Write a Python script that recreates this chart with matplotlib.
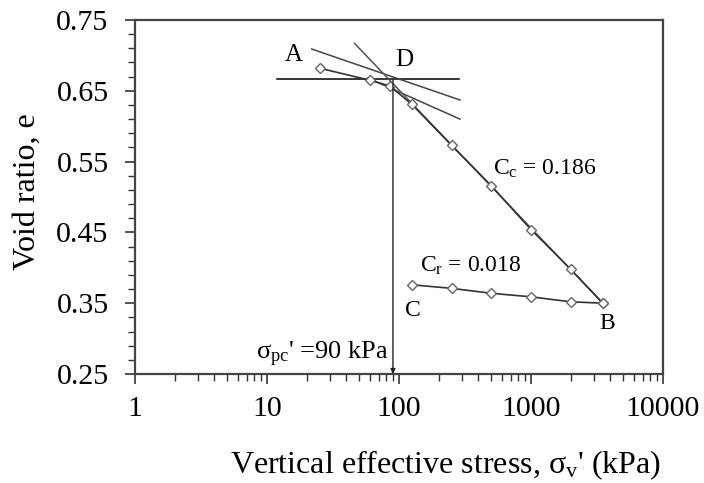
import numpy as np
import matplotlib
matplotlib.use("Agg")
import matplotlib.pyplot as plt
from matplotlib.ticker import FixedLocator, NullFormatter, LogLocator

plt.rcParams['font.family'] = ['Liberation Serif', 'DejaVu Serif']
plt.rcParams['mathtext.default'] = 'regular'

# Data
load_stress = [25, 60, 85, 125, 250, 500, 1000, 2000, 3500]
load_e = [0.682, 0.665, 0.657, 0.631, 0.573, 0.516, 0.454, 0.398, 0.350]
unload_stress = [3500, 2000, 1000, 500, 250, 125]
unload_e = [0.350, 0.352, 0.359, 0.364, 0.371, 0.376]

# Casagrande construction lines
horiz_x = [12, 285]
horiz_e = [0.667, 0.667]
tangent_x = [21.8, 290]
tangent_e = [0.709, 0.637]
bisect_x = [58, 290]
bisect_e = [0.668, 0.610]
virgin_x = [46, 3500]
virgin_e = [0.717, 0.350]
sigma_pc = 90

y_major = [0.25, 0.35, 0.45, 0.55, 0.65, 0.75]
x_major = [1, 10, 100, 1000, 10000]
x_labels = ['1', '10', '100', '1000', '10000']

fig = plt.figure(figsize=(7.04, 4.83), dpi=100)
ax = fig.add_axes([135/704, 1-374/483, (663-135)/704, (374-20)/483])

lc = '#333333'
ax.plot(horiz_x, horiz_e, color='black', lw=1.1)
ax.plot(tangent_x, tangent_e, color='#444444', lw=1.1)
ax.plot(bisect_x, bisect_e, color='#444444', lw=1.1)
ax.plot(virgin_x, virgin_e, color='#555555', lw=1.1)
ax.plot(load_stress, load_e, color=lc, lw=1.2, marker='D', ms=5,
        mfc='white', mec='#666666', mew=1.0)
ax.plot(unload_stress, unload_e, color=lc, lw=1.2, marker='D', ms=5,
        mfc='white', mec='#666666', mew=1.0)
ax.annotate('', xy=(sigma_pc, 0.25), xytext=(sigma_pc, 0.665),
            arrowprops=dict(arrowstyle='-|>', color='#222222', lw=1.0,
                            mutation_scale=7, shrinkA=0, shrinkB=0))

ax.set_xscale('log')
ax.set_xlim(1, 10000)
ax.set_ylim(0.25, 0.75)

ax.xaxis.set_major_locator(FixedLocator(x_major))
ax.set_xticklabels(x_labels)
ax.xaxis.set_minor_locator(LogLocator(base=10, subs=np.arange(2, 10)))
ax.xaxis.set_minor_formatter(NullFormatter())
ax.yaxis.set_major_locator(FixedLocator(y_major))
ax.set_yticklabels(['%.2f' % v for v in y_major])
ax.yaxis.set_minor_locator(FixedLocator(np.arange(0.25, 0.75, 0.02)))

ax.tick_params(axis='both', which='major', direction='out', length=7, width=1.2,
               color='#333333', labelsize=21.5)
ax.tick_params(axis='both', which='minor', direction='out', length=5, width=1.0,
               color='#333333')
ax.tick_params(axis='y', which='major', pad=12)
ax.tick_params(axis='x', which='major', pad=9)
for s in ax.spines.values():
    s.set_linewidth(1.6)
    s.set_color('#444444')

ax.set_xlabel(r"Vertical effective stress, $\sigma_v$' (kPa)", fontsize=23)
ax.xaxis.set_label_coords((446-135)/528, (374-465)/354)
ax.xaxis.label.set_va('center')
ax.set_ylabel('Void ratio, e', fontsize=23)
ax.yaxis.set_label_coords((27-135)/528, (374-192)/354)
ax.yaxis.label.set_va('center')

fs = 17
ax.text(16.0, 0.7006, 'A', fontsize=18, ha='center', va='center')
ax.text(109, 0.6935, 'D', fontsize=18, ha='center', va='center')
ax.text(515, 0.531, r'C$_c$ = 0.186', fontsize=fs, ha='left', va='baseline')
ax.text(144, 0.3945, r'C$_r$ = 0.018', fontsize=fs, ha='left', va='baseline')
ax.text(128, 0.340, 'C', fontsize=fs, ha='center', va='center')
ax.text(3767, 0.322, 'B', fontsize=fs, ha='center', va='center')
ax.text(84, 0.271, r"$\sigma_{pc}$' =90 kPa", fontsize=19, ha='right', va='baseline')

fig.savefig('out.png', dpi=100)
